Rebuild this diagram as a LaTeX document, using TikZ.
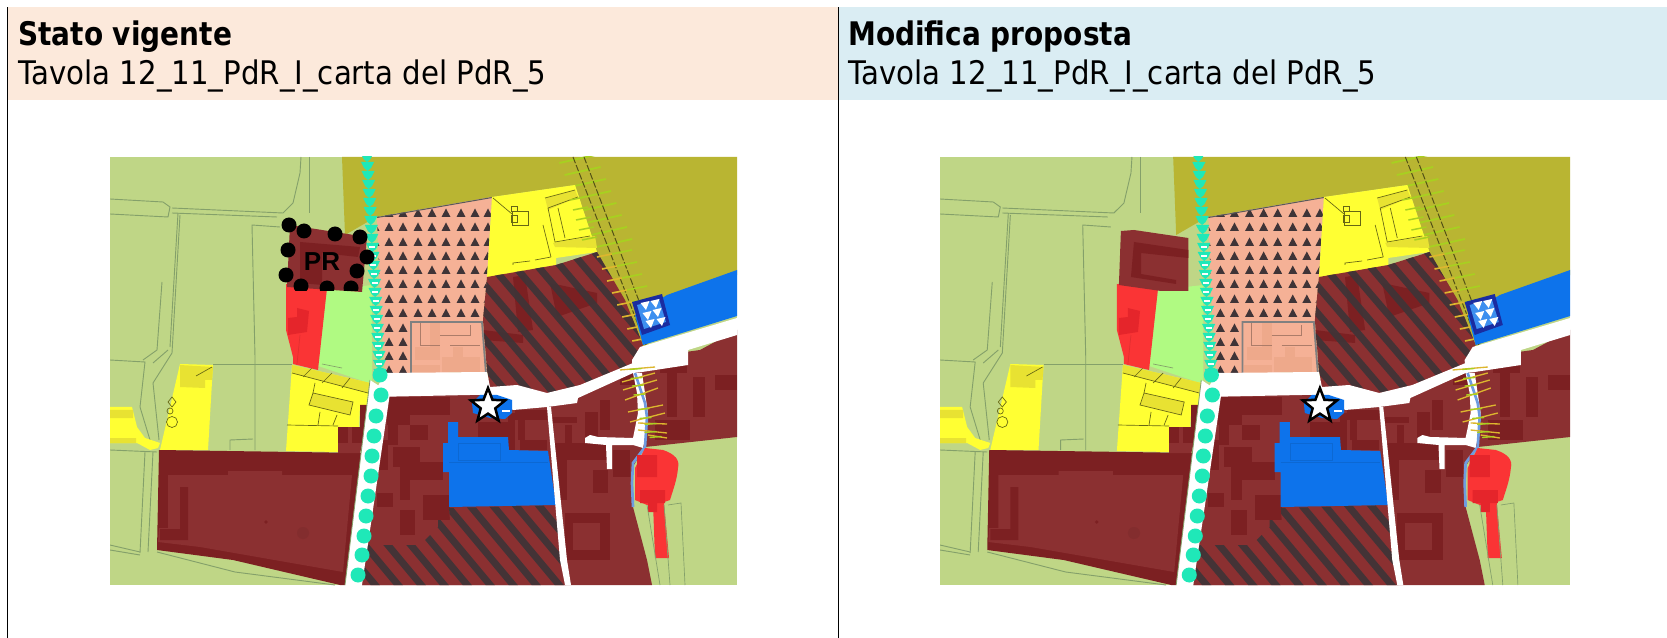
\documentclass[tikz,border=0pt]{standalone}
\usepackage{fontspec}
\setmainfont{DejaVu Sans}[FakeStretch=0.90,BoldFeatures={FakeStretch=0.86}]
\newfontfamily\prfont{Liberation Sans}
\usetikzlibrary{shapes.geometric}
\definecolor{mgreen}{HTML}{BFD686}
\definecolor{mline}{HTML}{84A06A}
\definecolor{molive}{HTML}{B9B532}
\definecolor{mpink}{HTML}{F5B196}
\definecolor{mpinkd}{HTML}{EEA98B}
\definecolor{myellow}{HTML}{FFFF33}
\definecolor{myellowd}{HTML}{E8E232}
\definecolor{mbrick}{HTML}{8B3031}
\definecolor{mbrickd}{HTML}{7C2022}
\definecolor{mblue}{HTML}{0D73EB}
\definecolor{mred}{HTML}{FA3435}
\definecolor{mredd}{HTML}{E5252B}
\definecolor{mlime}{HTML}{B0FA82}
\definecolor{mteal}{HTML}{1FE8B8}
\definecolor{mhatch}{HTML}{3F3437}
\definecolor{mtick}{HTML}{A8D020}
\definecolor{mtickb}{HTML}{DDB62E}
\definecolor{mnavy}{HTML}{1A2CA0}
\definecolor{mriver}{HTML}{6E9CE0}
\definecolor{hdra}{HTML}{FCE9DB}
\definecolor{hdrb}{HTML}{DAEDF3}
\tikzset{
  gline/.style={draw=mline,line width=.55pt},
  yline/.style={draw=black!60!myellow,line width=.4pt},
  bld/.style={fill=mbrickd},
  hatchl/.style={draw=mhatch,line width=4.2pt,opacity=.92},
  title/.style={anchor=base west,inner sep=0pt,font=\fontsize{19.5}{23}\selectfont},
}
\newcommand\basemap{%
  \fill[mgreen] (110,157) rectangle (737,585);
  % field lines
  \draw[gline] (110,199) -- (163,202) -- (170,207) -- (168,217) -- (110,214);
  \draw[gline] (172,208) -- (283,213) -- (293,203) -- (300,173) -- (301,157);
  \draw[gline] (172,213) -- (277,217);
  \draw[gline] (309,157) -- (309,213);
  \draw[gline] (280,227) -- (252,225) -- (255,357) -- (255,450);
  \draw[gline] (180,215) -- (172,353) -- (153,383) -- (159,440);
  \draw[gline] (178,213) -- (170,347);
  \draw[gline] (162,282) -- (157,350) -- (143,360);
  \draw[gline] (110,360) -- (145,362) -- (140,407) -- (150,440);
  \draw[gline] (168,350) -- (153,363);
  \draw[gline] (213,364) -- (292,364);
  \draw[gline] (110,450) -- (157,452);
  \draw[gline] (145,452) -- (140,553);
  \draw[gline] (153,452) -- (148,552);
  \draw[gline] (110,545) -- (140,552) (110,550) -- (140,555);
  \draw[gline] (157,552) -- (235,572) -- (335,585);
  \draw[gline] (230,450) -- (230,440) -- (253,439);
  % olive
  \fill[molive] (342,157) -- (737,157) -- (737,275) -- (640,350) -- (597,252) -- (575,185) -- (492,197) -- (376,217) -- (345,235) -- cycle;
  % corridor ticks and double dashes
  \foreach \y in {160,172,...,244} {\draw[mtick,line width=1.1pt] ({562+(\y-157)*.44-4},\y+3) -- ({562+(\y-157)*.44+32},\y-5);}
  \draw[black!55!molive,line width=.6pt,dash pattern=on 4pt off 1.2pt] (573,157) -- (646,345);
  \draw[black!55!molive,line width=.6pt,dash pattern=on 4pt off 1.2pt] (584,157) -- (652,335);
  % lime
  \fill[mlime] (327,290) -- (372,285) -- (372,384) -- (318,366) -- cycle;
  \draw[mline,line width=.4pt] (322,364) -- (342,368);
  % pink zone
  \begin{scope}
    \clip (377,217) -- (492,197) -- (487,277) -- (483,320) -- (487,372) -- (385,374) -- (380,300) -- cycle;
    \fill[mpink] (370,190) rectangle (500,380);
    \foreach \ty in {213,227,242,256,270,284,299,313} {
      \foreach \tx in {375,389,403,418,432,446,461,475,488} {
        \fill[mhatch] (\tx-4.5,\ty+4) -- (\tx+4.5,\ty+4) -- (\tx,\ty-4.5) -- cycle;}}
    \foreach \ty in {328,342,356,370} {
      \foreach \tx in {375,389,403} {
        \fill[mhatch] (\tx-4.5,\ty+4) -- (\tx+4.5,\ty+4) -- (\tx,\ty-4.5) -- cycle;}}
    \fill[mpinkd] (430,323) rectangle (440,360);
    \fill[mpinkd] (442,357) rectangle (480,372);
    \fill[mpinkd] (412,365) rectangle (440,374);
    \fill[mpinkd] (453,347) rectangle (463,360);
    \fill[mpinkd] (415,347) rectangle (430,360);
    \draw[black!30!mpink,line width=.4pt] (420,322) -- (420,345) -- (440,345) (440,335) -- (470,335) -- (470,325) (450,345) -- (480,345);
    \draw[gray,line width=1.1pt] (411,374) -- (411,322) -- (482,322) -- (486,374);
    \draw[black!65,line width=1.2pt] (377,217) -- (492,197);
  \end{scope}
  % yellow parcels
  \fill[myellow] (492,197) -- (575,185) -- (597,252) -- (556,258) -- (556,265) -- (487,278) -- cycle;
  \fill[myellowd] (545,198) -- (575,190) -- (578,197) -- (548,210) -- cycle;
  \fill[myellowd] (553,243) -- (595,236) -- (597,248) -- (555,247) -- cycle;
  \draw[yline] (493,198) -- (512,214);
  \draw[yline] (512,211) rectangle (528,225) (511,206) rectangle (517,211) (511,215) rectangle (517,222);
  \draw[yline] (545,198) -- (575,190) (548,208) -- (555,242) -- (590,236) (558,208) -- (565,238) (548,208) -- (578,197);
  \draw[yline] (543,225) -- (551,257) (513,265) -- (513,263) -- (530,261) (535,260) -- (551,257);
  \foreach \y in {200,210,...,240} {\draw[mtick,line width=.9pt] ({570+(\y-200)*.3},\y) -- ({585+(\y-200)*.3},\y-3);}
  \fill[myellow] (180,364) -- (213,365) -- (208,450) -- (160,450) -- cycle;
  \fill[myellowd] (180,365) -- (213,367) -- (212,380) -- (205,380) -- (205,388) -- (180,387) -- cycle;
  \draw[yline] (196,376) -- (212,367) (172,422) circle (5.5) (170,411) circle (3) (172,397) -- (176,402) -- (172,407) -- (168,402) -- cycle;
  \fill[myellow] (110,407) -- (132,407) -- (137,427) -- (145,438) -- (160,443) -- (158,448) -- (150,450) -- (137,443) -- (110,443) -- cycle;
  \fill[myellowd] (110,410) rectangle (133,418) (110,438) rectangle (136,443);
  \fill[myellow] (292,365) -- (370,383) -- (368,405) -- (360,405) -- (359,427) -- (338,427) -- (338,452) -- (286,451) -- cycle;
  \fill[myellowd] (292,365) -- (370,383) -- (368,393) -- (292,373) -- cycle;
  \fill[myellowd] (313,393) -- (353,402) -- (350,415) -- (309,405) -- cycle;
  \draw[yline] (313,393) -- (353,402) -- (350,415) -- (309,405) -- cycle;
  \draw[yline] (292,373) -- (368,393) (287,425) -- (338,426) (320,412) -- (318,425) (337,415) -- (333,425) (315,383) -- (313,393);
  \draw[yline] (303,377) -- (312,368) (322,383) -- (332,373) (342,388) -- (350,378);
  % large built block
  \fill[mbrickd] (159,450) -- (363,453) -- (345,585) -- (340,585) -- (233,560) -- (157,550) -- cycle;
  \fill[mbrick] (168,475) -- (228,475) -- (228,471) -- (282,471) -- (282,475) -- (352,475) -- (343,572) -- (200,547) -- (158,542) -- (159,528) -- (168,528) -- cycle;
  \fill[mbrickd] (180,487) -- (188,487) -- (188,540) -- (160,540) -- (160,529) -- (180,529) -- cycle;
  \fill[mbrickd] (266,522) circle (1.8);
  \fill[black!6!mbrick] (303,533) circle (6);
  % built zone
  \fill[mbrick] (385,393) -- (700,350) -- (737,330) -- (737,437) -- (645,447) -- (632,468) -- (633,507) -- (647,560) -- (652,585) -- (362,585) -- (372,395) -- cycle;
  \fill[mbrick] (360,405) -- (372,405) -- (360,453) -- (338,453) -- (338,427) -- (360,427) -- cycle;
  \foreach \a/\b/\c/\d in {338/427/348/443, 360/405/368/427, 352/427/366/443,
    387/397/450/415, 387/415/410/425, 393/447/420/467, 400/462/443/480, 377/493/393/507, 400/480/410/500,
    423/495/450/520, 478/422/508/437, 508/413/515/450, 515/410/547/420, 518/420/525/440, 520/440/547/450,
    553/417/577/423, 553/443/607/460, 593/470/608/493, 557/460/567/500, 567/513/610/523, 565/513/573/560,
    600/513/610/560, 573/550/607/560, 613/450/630/477, 660/360/687/373, 667/373/677/417, 693/377/705/417,
    600/400/610/430, 585/412/598/443, 655/420/690/440, 715/375/737/390, 620/360/635/385,
    425/470/443/480, 400/510/415/535, 565/425/572/443, 388/425/398/445, 375/440/388/470, 410/425/428/440} {
    \fill[bld] (\a,\b) rectangle (\c,\d);}
  % hatched zones
  \begin{scope}
    \clip (487,277) -- (556,265) -- (597,252) -- (625,300) -- (643,345) -- (633,363) -- (580,385) -- (547,393) -- (517,385) -- (490,387) -- (487,370) -- (483,320) -- cycle;
    \fill[mbrick] (470,240) rectangle (660,400);
    \fill[mbrickd] (513,277) -- (525,275) -- (533,330) -- (518,332) -- cycle;
    \fill[mbrickd] (483,330) -- (523,335) -- (523,343) -- (483,340) -- cycle;
    \fill[mbrickd] (550,283) -- (597,293) -- (597,303) -- (557,317) -- cycle;
    \foreach \c in {300,323,...,640} {\draw[hatchl] (\c,230) -- (\c+170,430);}
  \end{scope}
  \foreach \y in {254,266,...,350} {
    \draw[mtickb,line width=1pt] ({597+(\y-254)*.42},\y+3) -- ({612+(\y-254)*.42},\y);
    \draw[mtick,line width=1pt] ({612+(\y-254)*.42},\y) -- ({632+(\y-254)*.42},\y-4);}
  \begin{scope}
    \clip (367,545) -- (420,545) -- (438,527) -- (438,520) -- (450,520) -- (449,508) -- (557,505) -- (566,585) -- (362,585) -- cycle;
    \fill[mbrick] (360,500) rectangle (570,590);
    \foreach \c in {250,273,...,560} {\draw[hatchl] (\c,490) -- (\c+100,610);}
  \end{scope}
  % blue
  \fill[mblue] (448,422) -- (458,422) -- (458,437) -- (508,437) -- (509,450) -- (548,451) -- (556,505) -- (449,507) -- (449,472) -- (443,472) -- (443,443) -- (448,443) -- cycle;
  \draw[black!10!mblue,line width=.3pt] (458,443) rectangle (500,460) (449,462) -- (548,462);
  \fill[mblue] (667,295) -- (737,270) -- (737,316) -- (643,345) -- (635,315) -- cycle;
  % white roads
  \fill[white] (385,373) -- (487,372) -- (490,387) -- (517,385) -- (547,393) -- (580,385) -- (633,363) -- (642,370) -- (633,373) -- (578,398) -- (577,403) -- (547,407) -- (513,410) -- (497,395) -- (470,395) -- (372,397) -- cycle;
  \fill[white] (640,347) -- (737,318) -- (737,335) -- (688,350) -- (688,365) -- (642,372) -- (633,373) -- (632,360) -- cycle;
  \fill[white] (547,407) -- (551,407) -- (567,560) -- (571,585) -- (565,585) -- (560,560) -- cycle;
  \fill[white] (633,373) -- (642,373) -- (648,413) -- (645,438) -- (643,448) -- (633,445) -- (612,445) -- (612,469) -- (607,469) -- (606,445) -- (585,443) -- (585,438) -- (590,435) -- (598,437) -- (633,438) -- (638,413) -- (637,393) -- cycle;
  \draw[mriver,line width=1.6pt] (635,373) -- (645,403) -- (647,417) -- (645,447) -- (633,463) -- (632,483) -- (633,507);
  \foreach \xa/\ya/\xb/\yb in {620/370/655/367, 622/382/655/373, 623/390/657/380, 625/400/658/388, 628/412/663/405, 630/422/665/413, 638/423/667/424, 638/430/667/433, 648/435/667/438} {
    \draw[mtickb,line width=.8pt] (\xa,\ya) -- (\xb,\yb);
    \draw[mtick,line width=.8pt] ({(\xa+\xb)/2-8},{(\ya+\yb)/2+1}) -- ({(\xa+\xb)/2+4},{(\ya+\yb)/2});}
  % bright red south
  \fill[mred] (635,468) -- (645,448) -- (663,450) .. controls (675,454) and (680,460) .. (678,468) .. controls (677,480) and (673,490) .. (670,500) -- (655,505) -- (647,505) -- (635,500) -- cycle;
  \fill[mred] (653,503) -- (664,503) -- (669,558) -- (655,558) -- cycle;
  \fill[mredd] (637,455) rectangle (657,477) (640,490) rectangle (665,503) (648,503) rectangle (657,512);
  \draw[mline,line width=.4pt] (668,505) -- (681,503) -- (685,585) (647,505) -- (660,585) (664,505) -- (670,585);
  % blue under star and star
  \fill[mblue] (472,403) -- (480,395) -- (497,395) -- (512,400) -- (512,413) -- (505,419) -- (490,418) -- (473,413) -- cycle;
  \fill[white] (502,410) rectangle (510,412);
  \node[star,star points=5,star point ratio=2.35,minimum size=36*.6pt,inner sep=0pt,draw=black,line width=1.5pt,fill=white] (staricon) at (488,406) {};
  % navy icon
  \fill[mnavy] (632,302) -- (662,294) -- (670,325) -- (642,335) -- cycle;
  \fill[mblue!80!white] (637,305) -- (659,299) -- (666,322) -- (644,329) -- cycle;
  \foreach \tx/\ty in {645/307,655/305,647/317,657/314,650/325,661/323} {
    \fill[white] (\tx-4.5,\ty-4) -- (\tx+4.5,\ty-6) -- (\tx+1,\ty+3) -- cycle;}
  % red parcel north
  \fill[mred] (286,284) -- (327,288) -- (318,370) -- (293,364) -- (293,357) -- (286,330) -- cycle;
  \fill[mredd] (297,308) -- (309,311) -- (307,332) -- (288,335) -- (288,318) -- (297,317) -- cycle;
  \draw[black!10!mred,line width=.4pt] (300,335) -- (297,364);
  % path and stops
  \fill[white] (370,380) -- (390,393) -- (362,585) -- (345,585) -- cycle;
  \draw[mline,line width=.5pt] (370,380) -- (345,585);
  \foreach \y in {157,166,...,375} {
    \pgfmathsetmacro\xx{367+.06*(\y-157)}
    \fill[mteal] (\xx-6.5,\y-4) -- (\xx+6.5,\y-4) -- (\xx+3.5,\y+2) -- (\xx,\y+5) -- (\xx-3.5,\y+2) -- cycle;
    \ifnum\y>240 \fill[white] (\xx-3,\y-1) rectangle (\xx+3,\y+1);\fi}
  \foreach \dx/\dy in {380/375,381/395,376/416,374/436,372/456,371/476,368/496,366/516,364/536,362/555,358/575} {
    \fill[mteal] (\dx,\dy) circle (7.5);}
}
\begin{document}
\begin{tikzpicture}[x=.6pt,y=-.6pt]
  \useasboundingbox (0,0) rectangle (1667,638);
  \fill[white] (0,0) rectangle (1667,638);
  \fill[hdra] (8,7.5) rectangle (838,100);
  \fill[hdrb] (839,7.5) rectangle (1667,100);
  \draw[black,line width=.6pt] (7.5,7.5) -- (7.5,638);
  \draw[black,line width=.6pt] (838.5,7.5) -- (838.5,638);
  \node[title,font=\fontsize{19.5}{23}\selectfont\bfseries] (t1) at (18,46) {Stato vigente};
  \node[title] (s1) at (18,85) {Tavola 12\_11\_PdR\_I\_carta del PdR\_5};
  \node[title,font=\fontsize{19.5}{23}\selectfont\bfseries] (t2) at (848,46) {Modifica proposta};
  \node[title] (s2) at (848,85) {Tavola 12\_11\_PdR\_I\_carta del PdR\_5};
  % left map
  \begin{scope}
    \clip (110,157) rectangle (737,585);
    \basemap
    \fill[mbrick] (290,225) -- (367,237) -- (362,292) -- (287,287) -- cycle;
    \fill[mbrickd] (300,242) -- (360,247) -- (358,257) -- (322,253) -- (322,285) -- (300,283) -- cycle;
    \begin{scope}
      \clip (270,210) rectangle (380,291);
      \foreach \dx/\dy in {289/225,304/231,335/234,360/237,367/257,357/271,351/288,327/288,301/286,286/275,288/250} {
        \fill[black] (\dx,\dy) circle (7.5);}
    \end{scope}
    \node[inner sep=0pt,font=\fontsize{15.6}{16}\prfont\bfseries] (prlabel) at (322,262) {PR};
  \end{scope}
  % right map
  \begin{scope}[shift={(829.45,0)},xscale=1.005]
    \clip (110,157) rectangle (737,585);
    \basemap
    \fill[mbrick] (290,231) -- (303,230) -- (357,238) -- (357,291) -- (330,291) -- (288,285) -- cycle;
    \fill[mbrickd] (303,242) -- (357,250) -- (357,258) -- (310,253) -- (310,274) -- (345,280) -- (345,284) -- (300,277) -- cycle;
  \end{scope}
\end{tikzpicture}
\end{document}
